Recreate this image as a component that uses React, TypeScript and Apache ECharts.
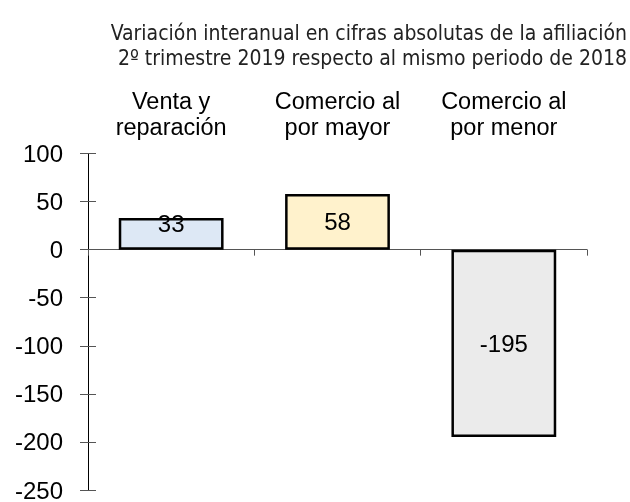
import React, { useEffect, useRef } from "react";
import * as echarts from "echarts";

const titleLines = [
  "Variación interanual en cifras absolutas de la afiliación",
  "2º trimestre 2019 respecto al mismo periodo de 2018",
];
const categories = ["Venta y\nreparación", "Comercio al\npor mayor", "Comercio al\npor menor"];
const values = [33, 58, -195];
const barColors = ["#dde8f5", "#fff2cc", "#ebebeb"];
const yMin = -250;
const yMax = 100;
const yInterval = 50;

export default function App() {
  const ref = useRef<HTMLDivElement>(null);
  useEffect(() => {
    if (!ref.current) return;
    const chart = echarts.init(ref.current, null, { renderer: "svg" });
    const font = "Liberation Sans, Arial, sans-serif";
    const titleStyle = {
      fontFamily: "DejaVu Sans Condensed",
      fontSize: 21,
      fontWeight: "normal",
      color: "#222",
      lineHeight: 22,
    };
    chart.setOption({
      animation: false,
      title: titleLines.map((t, i) => ({
        text: t,
        right: 3,
        top: 22 + i * 25,
        padding: 0,
        textStyle: titleStyle,
      })),
      grid: { left: 88, right: 43, top: 153.5, bottom: 8.5, containLabel: false },
      xAxis: [
        {
          type: "category",
          data: categories,
          position: "top",
          axisLine: { show: false, onZero: false },
          axisTick: { show: false },
          axisLabel: {
            fontFamily: font,
            fontSize: 23.5,
            lineHeight: 26,
            color: "#000",
            margin: 14,
          },
        },
        {
          type: "category",
          data: categories,
          position: "bottom",
          axisLine: { show: true, onZero: true, lineStyle: { color: "#555", width: 1 } },
          axisTick: { show: true, inside: false, length: 6, lineStyle: { color: "#555" } },
          axisLabel: { show: false },
        },
      ],
      yAxis: [
        {
          type: "value",
          min: yMin,
          max: yMax,
          interval: yInterval,
          axisLine: { show: true, lineStyle: { color: "#000", width: 1 } },
          axisTick: { show: true, length: 8, lineStyle: { color: "#555" } },
          axisLabel: { fontFamily: font, fontSize: 24, color: "#000", margin: 25 },
          splitLine: { show: false },
        },
        {
          type: "value",
          position: "left",
          min: yMin,
          max: yMax,
          interval: yInterval,
          axisLine: { show: false },
          axisTick: { show: true, inside: true, length: 8, lineStyle: { color: "#555" } },
          axisLabel: { show: false },
          splitLine: { show: false },
        },
      ],
      series: [
        {
          type: "bar",
          xAxisIndex: 1,
          yAxisIndex: 0,
          barWidth: "63%",
          data: values.map((v, i) => ({
            value: v,
            itemStyle: { color: barColors[i] },
            label: i === 0 ? { offset: [0, -10] } : undefined,
          })),
          itemStyle: { borderColor: "#000", borderWidth: 2.5 },
          label: {
            show: true,
            position: "inside",
            fontFamily: font,
            fontSize: 24,
            color: "#000",
          },
        },
      ],
    });
    return () => chart.dispose();
  }, []);
  return (
    <div
      ref={ref}
      style={{ width: 630, height: 502, position: "fixed", left: 0, top: 0 }}
    />
  );
}
